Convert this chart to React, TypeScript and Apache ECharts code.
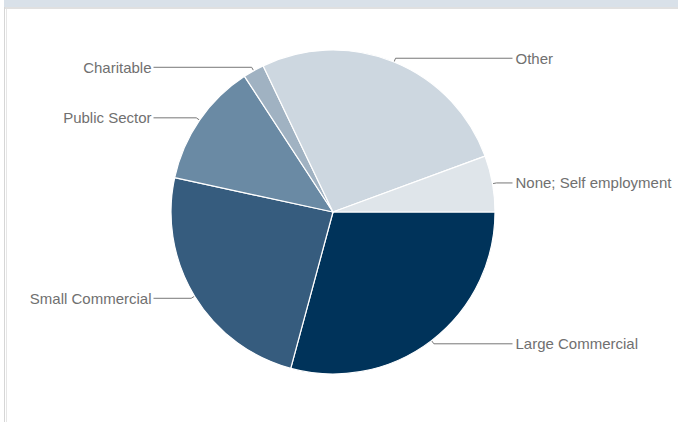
import React, { useEffect, useRef } from "react";
import * as echarts from "echarts";

const categories = [
  "Large Commercial",
  "Small Commercial",
  "Public Sector",
  "Charitable",
  "Other",
  "None; Self employment",
];
const values = [29.2, 24.2, 12.4, 2.1, 26.5, 5.6];
const colors = ["#00335a", "#365c7e", "#6a8aa4", "#a0b2c2", "#cdd7e0", "#dfe5ea"];

const CX = 333;
const CY = 212;
const LINE_REACH = 179.5;
const TEXT_GAP_RIGHT = 3;
const TEXT_GAP_LEFT = 2;

export default function App() {
  const ref = useRef<HTMLDivElement>(null);
  useEffect(() => {
    const chart = echarts.init(ref.current!, null, { renderer: "svg" });
    const data = categories.map((name, i) => ({
      name,
      value: values[i],
      itemStyle: { color: colors[i] },
    }));
    chart.setOption({
      animation: false,
      backgroundColor: "#ffffff",
      graphic: [
        { type: "rect", shape: { x: 4, y: 0, width: 674, height: 7 }, style: { fill: "#d9e1e9" }, silent: true },
        { type: "rect", shape: { x: 4, y: 7, width: 674, height: 2 }, style: { fill: "#e0e0e0" }, silent: true },
        { type: "rect", shape: { x: 4, y: 7, width: 1, height: 415 }, style: { fill: "#d6d6d6" }, silent: true },
        { type: "rect", shape: { x: 6, y: 9, width: 1, height: 413 }, style: { fill: "#e6e6e6" }, silent: true },
      ],
      series: [
        {
          type: "pie",
          center: [CX, CY],
          radius: 162,
          startAngle: 0,
          clockwise: true,
          avoidLabelOverlap: true,
          bleedMargin: 0,
          emphasis: { disabled: true },
          itemStyle: { borderColor: "#ffffff", borderWidth: 1.2 },
          label: {
            show: true,
            position: "outside",
            distanceToLabelLine: TEXT_GAP_RIGHT,
            color: "#707070",
            fontSize: 15,
            fontFamily: "Liberation Sans, Arial, sans-serif",
            overflow: "none",
          },
          labelLine: {
            show: true,
            length: 4,
            length2: 15,
            smooth: false,
            lineStyle: { color: "#777777", width: 1 },
          },
          labelLayout: (params: any) => {
            const pts = params.labelLinePoints;
            if (!pts) return {};
            const isLeft = pts[2][0] < pts[0][0];
            const endX = isLeft ? CX - LINE_REACH : CX + LINE_REACH;
            const y = pts[2][1];
            return {
              x: isLeft ? endX - TEXT_GAP_LEFT : endX + TEXT_GAP_RIGHT,
              y,
              align: isLeft ? "right" : "left",
              verticalAlign: "middle",
              labelLinePoints: [pts[0], pts[1], [endX, y]],
            };
          },
          data,
        },
      ],
    });
    return () => chart.dispose();
  }, []);
  return (
    <div
      ref={ref}
      style={{ position: "fixed", left: 0, top: 0, width: 678, height: 422 }}
    />
  );
}
